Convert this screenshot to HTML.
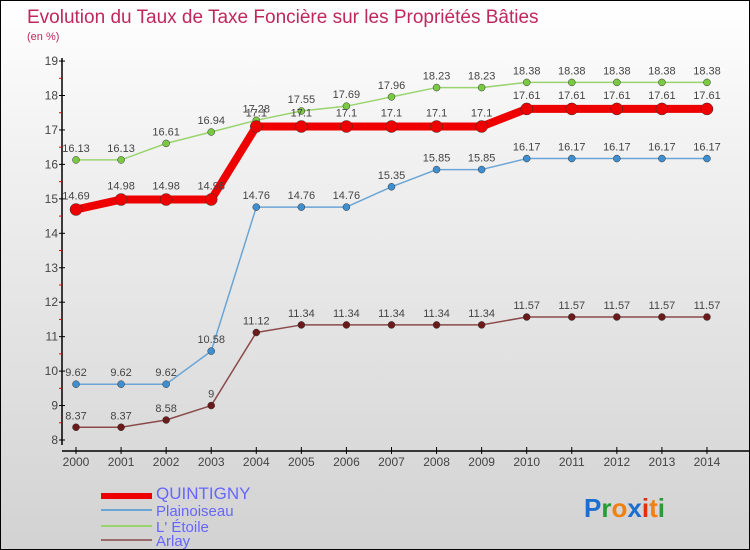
<!DOCTYPE html>
<html><head><meta charset="utf-8"><style>
body{margin:0}
#wrap{position:relative;width:748px;height:548px;border:1px solid #000;background:linear-gradient(#ffffff,#f0f0f0 30%,#d2d2d2);font-family:"Liberation Sans",sans-serif;overflow:hidden}
</style></head><body>
<div id="wrap">
<svg id="chart" width="748" height="548"></svg>
</div>
<script>
const years=["2000","2001","2002","2003","2004","2005","2006","2007","2008","2009","2010","2011","2012","2013","2014"];
const quintigny=[14.69,14.98,14.98,14.98,17.1,17.1,17.1,17.1,17.1,17.1,17.61,17.61,17.61,17.61,17.61];
const plainoiseau=[9.62,9.62,9.62,10.58,14.76,14.76,14.76,15.35,15.85,15.85,16.17,16.17,16.17,16.17,16.17];
const etoile=[16.13,16.13,16.61,16.94,17.28,17.55,17.69,17.96,18.23,18.23,18.38,18.38,18.38,18.38,18.38];
const arlay=[8.37,8.37,8.58,9,11.12,11.34,11.34,11.34,11.34,11.34,11.57,11.57,11.57,11.57,11.57];
const yTicks=[8,9,10,11,12,13,14,15,16,17,18,19];
const NS="http://www.w3.org/2000/svg";
const svg=document.getElementById('chart');
const x=i=>75+i*45.07;
const y=v=>439-(v-8)*34.45;
function mk(t,a,p){const e=document.createElementNS(NS,t);for(const k in a)e.setAttribute(k,a[k]);(p||svg).appendChild(e);return e;}
let t=mk('text',{x:26,y:22,fill:'#c0285a','font-size':19});t.textContent='Evolution du Taux de Taxe Foncière sur les Propriétés Bâties';


t=mk('text',{x:26,y:39,fill:'#c0285a','font-size':11});t.textContent='(en %)';


let ax=mk('line',{x1:61,y1:57,x2:61,y2:444,stroke:'#000','stroke-width':1.5});


ax=mk('line',{x1:61,y1:450,x2:748,y2:450,stroke:'#000','stroke-width':1.5});


yTicks.forEach(v=>{
 mk('line',{x1:58,y1:y(v),x2:64,y2:y(v),stroke:'#000'});
 if(v<19) mk('line',{x1:58,y1:y(v+0.5),x2:61,y2:y(v+0.5),stroke:'#e00'});
 const l=mk('text',{x:57,y:y(v)+4,fill:'#444','font-size':12,'text-anchor':'end'});l.textContent=v;
 
 
});
years.forEach((yr,i)=>{
 mk('line',{x1:x(i),y1:446,x2:x(i),y2:453,stroke:'#000'});
 const l=mk('text',{x:x(i),y:465,fill:'#444','font-size':12,'text-anchor':'middle'});l.textContent=yr;
 
 
});
function series(data,color,lw,r,dot,name,dy){
 const g=mk('g',{});
 
 
 const pl=mk('polyline',{points:data.map((v,i)=>x(i)+','+y(v)).join(' '),fill:'none',stroke:color,'stroke-width':lw,'stroke-linejoin':'round'},g);
 
 
 data.forEach((v,i)=>{
  const c=mk('circle',{cx:x(i),cy:y(v),r:r,fill:dot,stroke:'#333','stroke-width':0.5},g);
  
  
  const l=mk('text',{x:x(i),y:y(v)+dy,fill:'#444','font-size':11,'text-anchor':'middle'},g);l.textContent=v;
  
  
 });
}
series(etoile,'#9ad46e',1.5,3.5,'#7ac943','etoile',-8);
series(plainoiseau,'#6aa5d6',1.5,3.5,'#3f8fd0','plainoiseau',-8);
series(arlay,'#8b4a4a',1.5,3.5,'#6a1a1a','arlay',-8);
series(quintigny,'#ee0000',8,6,'#ee0000','quintigny',-10);
const leg=[['QUINTIGNY','#ee0000',6],['Plainoiseau','#6aa5d6',2],['L\' Étoile','#9ad46e',2],['Arlay','#9a6a6a',2]];
const ly=[492,509,525,539];
leg.forEach((d,i)=>{
 const g=mk('g',{});
 
 
 mk('line',{x1:100,y1:ly[i]+(i==0?3:0),x2:151,y2:ly[i]+(i==0?3:0),stroke:d[1],'stroke-width':d[2]},g);
 const l=mk('text',{x:155,y:ly[i]+6,fill:'#6666ff','font-size':i==0?17:15},g);l.textContent=d[0];
});
const logo=mk('text',{x:583,y:516,'font-size':26,'font-weight':'bold'});


[['P','#1a6fd0'],['r','#2a9a3a'],['o','#f08010'],['x','#1a6fd0'],['i','#e03010'],['t','#f08010'],['i','#2a9a3a']].forEach(c=>{const s=mk('tspan',{fill:c[1]},logo);s.textContent=c[0];});
</script>
</body></html>
